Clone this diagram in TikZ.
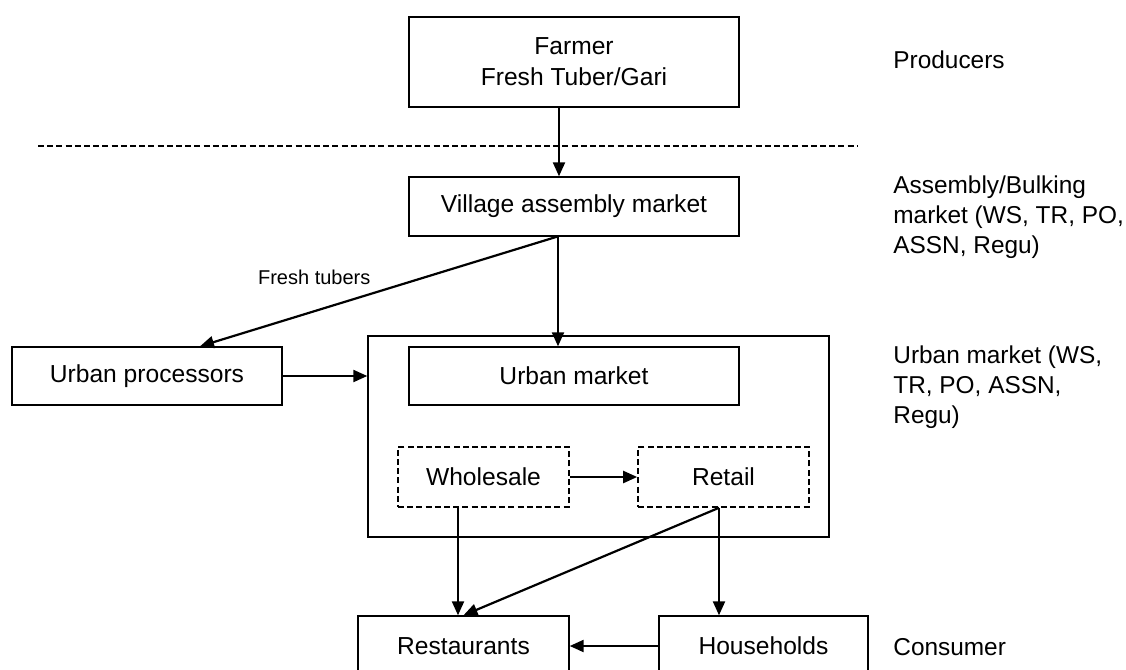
\documentclass[tikz,border=0pt]{standalone}
\usepackage{fontspec}
\setmainfont{Liberation Sans}
\usetikzlibrary{arrows.meta}

\begin{document}
\begin{tikzpicture}
[
x=0.5pt,y=-0.5pt,
block/.style 2 args={draw,line width=0.7pt,minimum width=#1,minimum height=#2,inner sep=0pt,align=center,font=\fontsize{12.3}{15.5}\selectfont},
subblock/.style 2 args={block={#1}{#2},dash pattern=on 3pt off 1.6pt,line width=0.8pt},
tier/.style={anchor=west,align=left,inner sep=0pt,font=\fontsize{12.2}{15}\selectfont},
flow/.style={line width=1.1pt,-{Triangle[length=7pt,width=6pt]}},
]

\useasboundingbox (0,0) rectangle (1126,670);
\clip (0,0) rectangle (1126,670);

\node[block={165pt}{45pt}] (farmer) at (574,62) {Farmer\\Fresh Tuber/Gari};
\node[block={165pt}{29.5pt}] (village) at (574,206.5) {Village assembly market};
\node[block={135pt}{29pt}] (proc) at (147,376) {Urban processors};
\node[block={230.5pt}{100.5pt}] (urbanbox) at (598.5,436.5) {};
\node[block={165pt}{29pt}] (urban) at (574,376) {Urban market};
\node[subblock={85.5pt}{30pt}] (whole) at (483.5,477) {Wholesale};
\node[subblock={85.5pt}{30pt}] (retail) at (723.5,477) {Retail};
\node[block={105.5pt}{30pt}] (rest) at (463.5,646) {Restaurants};
\node[block={104.5pt}{30pt}] (house) at (763.5,646) {Households};

% levels on the right
\node[tier] (prod) at (893,60) {Producers};
\node[tier] (assem) at (893,217) {Assembly/Bulking\\market (WS, TR, PO,\\ASSN, Regu)};
\node[tier] (umark) at (893,387) {Urban market (WS,\\TR, PO, ASSN,\\Regu)};
\node[tier] (cons) at (893,647) {Consumer};

\draw[line width=0.8pt,dash pattern=on 3pt off 1.6pt] (38,146) -- (858,146);

\draw[flow] ([xshift=-7.5pt]farmer.south) -- ([xshift=-7.5pt]village.north);
\draw[flow] ([xshift=-8pt]village.south) -- ([xshift=-8pt]urban.north);
\draw[flow] ([xshift=-8.5pt]village.south) -- node[pos=0.68,above=9.5pt,font=\fontsize{10}{12}\selectfont] (fresh) {Fresh tubers} ([xshift=26.5pt]proc.north);
\draw[flow] (proc.east) -- (proc.east -| urbanbox.west);
\draw[flow] (whole.east) -- (retail.west);
\draw[flow] ([xshift=-12.75pt]whole.south) -- ([xshift=-12.75pt]whole.south |- rest.north);
\draw[flow] ([xshift=-2.25pt]retail.south) -- ([xshift=-2.25pt]retail.south |- house.north);
\draw[flow] ([xshift=-2.25pt]retail.south) -- (rest.north);
\draw[flow] (house.west) -- (rest.east);

\end{tikzpicture}
\end{document}
